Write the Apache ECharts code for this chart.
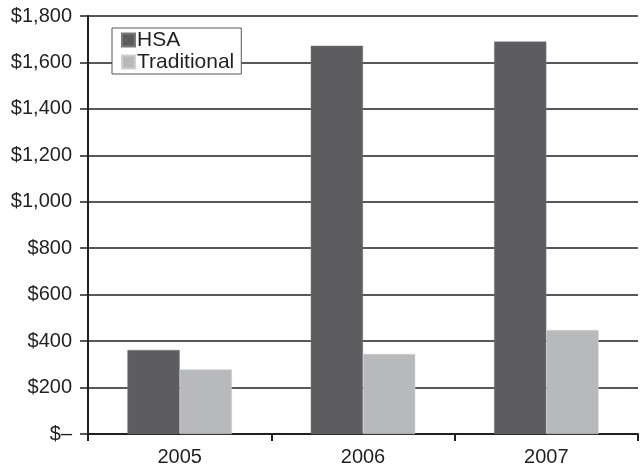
<!DOCTYPE html>
<html><head><meta charset="utf-8">
<script src="https://cdn.jsdelivr.net/npm/echarts@6/dist/echarts.min.js"></script>
<style>html,body{margin:0;padding:0;background:#fff}#c{width:643px;height:471px}</style>
</head><body><div id="c"></div>
<script>
const categories = ['2005', '2006', '2007'];
const hsa = [362, 1672, 1690];
const traditional = [278, 345, 448];
const yTicks = [0, 200, 400, 600, 800, 1000, 1200, 1400, 1600, 1800];

const chart = echarts.init(document.getElementById('c'));
const font = 'Liberation Sans, Arial, sans-serif';
const fs = 20;
chart.setOption({
  animation: false,
  backgroundColor: '#fff',
  grid: { left: 88, right: 5, top: 16, bottom: 37 },
  legend: {
    orient: 'vertical', left: 112, top: 28,
    data: ['HSA', 'Traditional'],
    backgroundColor: '#fff', borderColor: '#555', borderWidth: 1,
    padding: [1, 7, 1, 9], itemGap: 0, itemWidth: 13, itemHeight: 13,
    icon: 'rect',
    textStyle: { fontFamily: font, fontSize: 21, color: '#231f20', padding: [0, 0, 0, -3], lineHeight: 22 }
  },
  xAxis: {
    type: 'category', data: categories,
    axisLine: { lineStyle: { color: '#231f20', width: 2 } },
    axisTick: { show: true, length: 7, lineStyle: { color: '#231f20', width: 2 } },
    axisLabel: { fontFamily: font, fontSize: fs, color: '#231f20', margin: 13 }
  },
  yAxis: {
    type: 'value', min: 0, max: 1800, interval: 200,
    axisLine: { show: true, lineStyle: { color: '#231f20', width: 2 } },
    axisTick: { show: true, length: 8, lineStyle: { color: '#231f20', width: 1.5 } },
    splitLine: { lineStyle: { color: '#231f20', width: 1.5 } },
    axisLabel: {
      fontFamily: font, fontSize: fs, color: '#231f20', margin: 16,
      formatter: v => yTicks.includes(v) ? (v === 0 ? '$\u2013' : '$' + v.toLocaleString('en-US')) : ''
    }
  },
  series: [
    { name: 'HSA', type: 'bar', data: hsa, barGap: '0%', barCategoryGap: '43%',
      itemStyle: { color: '#5d5d5f', borderColor: '#7a7a7c', borderWidth: 0.5 } },
    { name: 'Traditional', type: 'bar', data: traditional,
      itemStyle: { color: '#b8b9bb', borderColor: '#d0d0d2', borderWidth: 0.5 } }
  ]
});
</script></body></html>
